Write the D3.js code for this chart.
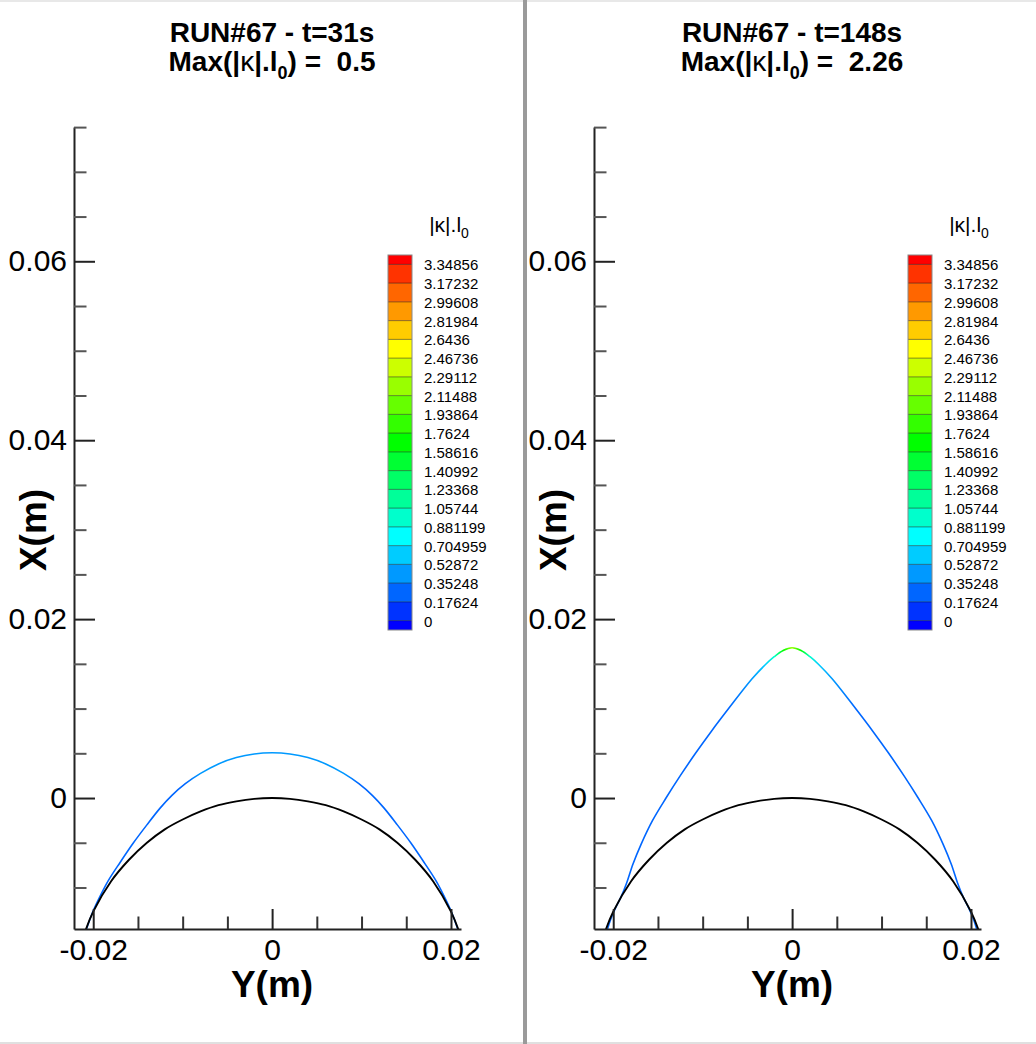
<!DOCTYPE html>
<html>
<head>
<meta charset="utf-8">
<script src="https://cdn.jsdelivr.net/npm/d3@7"></script>
<style>
  html, body { margin: 0; padding: 0; background: #fff; }
  svg { display: block; }
  text { font-family: "Liberation Sans", Arial, Helvetica, sans-serif; }
</style>
</head>
<body>
<div id="chart"></div>
<script>
// ---------------- data ----------------
const panelTitles = ["RUN#67 - t=31s", "RUN#67 - t=148s"];
const panelMax = ["0.5", "2.26"];

const xAxisMajor = [-0.02, 0, 0.02];                 // Y(m)
const xAxisMinor = [-0.015, -0.01, -0.005, 0.005, 0.01, 0.015];
const yAxisMajor = [0, 0.02, 0.04, 0.06];             // X(m)
const yAxisMinor = [-0.01, -0.005, 0.005, 0.01, 0.015, 0.025, 0.03, 0.035, 0.045, 0.05, 0.055, 0.065, 0.07, 0.075];

const legendLevels = [0, 0.17624, 0.35248, 0.52872, 0.704959, 0.881199, 1.05744, 1.23368, 1.40992, 1.58616,
  1.7624, 1.93864, 2.11488, 2.29112, 2.46736, 2.6436, 2.81984, 2.99608, 3.17232, 3.34856];
const legendLabels = ["0", "0.17624", "0.35248", "0.52872", "0.704959", "0.881199", "1.05744", "1.23368", "1.40992", "1.58616",
  "1.7624", "1.93864", "2.11488", "2.29112", "2.46736", "2.6436", "2.81984", "2.99608", "3.17232", "3.34856"];
const legendColors = ["#0000ff", "#0033ff", "#0066ff", "#0099ff", "#00ccff", "#00ffff", "#00ffcc", "#00ff99", "#00ff66", "#00ff33",
  "#00ff00", "#33ff00", "#66ff00", "#99ff00", "#ccff00", "#ffff00", "#ffcc00", "#ff9900", "#ff6600", "#ff3300", "#ff0000"];

// reference (initial) interface, black
const circleY = [-0.0214, -0.0210, -0.0200, -0.0180, -0.0160, -0.0140, -0.0120, -0.0100, -0.0080, -0.0060, -0.0040, -0.0020, 0,
  0.0020, 0.0040, 0.0060, 0.0080, 0.0100, 0.0120, 0.0140, 0.0160, 0.0180, 0.0200, 0.0210, 0.0214];
const circleX = [-0.0166, -0.0152, -0.0127, -0.0093, -0.0069, -0.0050, -0.0035, -0.0024, -0.0015, -0.0008, -0.00037, -0.00009, 0,
  -0.00009, -0.00037, -0.0008, -0.0015, -0.0024, -0.0035, -0.0050, -0.0069, -0.0093, -0.0127, -0.0152, -0.0166];

// t = 31 s interface
const run31Y = [-0.0214, -0.0211, -0.0206, -0.0200, -0.0192, -0.0183, -0.0170, -0.0155, -0.0140, -0.0125, -0.0112,
  -0.0097, -0.0080, -0.0060, -0.0040, -0.0020, 0,
  0.0020, 0.0040, 0.0060, 0.0080, 0.0097,
  0.0112, 0.0125, 0.0140, 0.0155, 0.0170, 0.0183, 0.0192, 0.0200, 0.0206, 0.0211, 0.0214];
const run31X = [-0.0170, -0.0157, -0.0142, -0.0126, -0.0109, -0.0092, -0.0072, -0.0050, -0.0030, -0.0011, 0.0003,
  0.0016, 0.00275, 0.00381, 0.00452, 0.00493, 0.00506,
  0.00493, 0.00452, 0.00381, 0.00275, 0.0016,
  0.0003, -0.0011, -0.0030, -0.0050, -0.0072, -0.0092, -0.0109, -0.0126, -0.0142, -0.0157, -0.0170];
const run31K = [0.3, 0.3, 0.3, 0.3, 0.3, 0.3, 0.29, 0.28, 0.28, 0.29, 0.31,
  0.34, 0.38, 0.43, 0.47, 0.49, 0.5,
  0.49, 0.47, 0.43, 0.38, 0.34,
  0.31, 0.29, 0.28, 0.28, 0.29, 0.3, 0.3, 0.3, 0.3, 0.3, 0.3];

// t = 148 s interface
const run148Y = [-0.0213, -0.0208, -0.0203, -0.0197, -0.0191, -0.0185, -0.0178, -0.0169, -0.0156, -0.0141, -0.0125, -0.0108, -0.0090,
  -0.0071, -0.0045, -0.0030, -0.0020, -0.0010, 0,
  0.0010, 0.0020, 0.0030, 0.0045, 0.0071,
  0.0090, 0.0108, 0.0125, 0.0141, 0.0156, 0.0169, 0.0178, 0.0185, 0.0191, 0.0197, 0.0203, 0.0208, 0.0213];
const run148X = [-0.0172, -0.0152, -0.0136, -0.0122, -0.0110, -0.0095, -0.0074, -0.0052, -0.0025, 0.0000, 0.0025, 0.0050, 0.0075,
  0.0100, 0.0133, 0.0149, 0.0158, 0.0165, 0.0168,
  0.0165, 0.0158, 0.0149, 0.0133, 0.0100,
  0.0075, 0.0050, 0.0025, 0.0000, -0.0025, -0.0052, -0.0074, -0.0095, -0.0110, -0.0122, -0.0136, -0.0152, -0.0172];
const run148K = [0.28, 0.28, 0.28, 0.28, 0.28, 0.28, 0.27, 0.26, 0.25, 0.25, 0.25, 0.25, 0.27,
  0.3, 0.42, 0.7, 1.0, 1.6, 2.26,
  1.6, 1.0, 0.7, 0.42, 0.3,
  0.27, 0.25, 0.25, 0.25, 0.25, 0.26, 0.27, 0.28, 0.28, 0.28, 0.28, 0.28, 0.28];

const runsY = [run31Y, run148Y], runsX = [run31X, run148X], runsK = [run31K, run148K];

// ---------------- drawing ----------------
const W = 1036, H = 1044;
const FONT = '"Liberation Sans", Arial, Helvetica, sans-serif';
const svg = d3.select("#chart").append("svg").attr("width", W).attr("height", H);
svg.append("rect").attr("width", W).attr("height", H).attr("fill", "#fff");

// frame lines
svg.append("rect").attr("x", 0).attr("y", 0).attr("width", W).attr("height", 2).attr("fill", "#e8e8e8");
svg.append("rect").attr("x", 0).attr("y", 1042).attr("width", W).attr("height", 2).attr("fill", "#e0e0e0");
svg.append("rect").attr("x", 523).attr("y", 0).attr("width", 4).attr("height", H).attr("fill", "#9a9a9a");

const colorOf = d3.scaleThreshold().domain(legendLevels).range(legendColors);
const defs = svg.append("defs");

[0, 1].forEach(p => {
  const ox = p * 520;
  const g = svg.append("g");

  const x = d3.scaleLinear().domain([-0.02215, 0.02112]).range([74 + ox, 461 + ox]);
  const y = d3.scaleLinear().domain([-0.01464, 0.075]).range([929, 127.1]);

  // clip
  defs.append("clipPath").attr("id", "clip" + p)
    .append("rect").attr("x", x.range()[0]).attr("y", y.range()[1])
    .attr("width", x.range()[1] - x.range()[0]).attr("height", y.range()[0] - y.range()[1]);

  // title
  g.append("text").attr("x", 272 + ox).attr("y", 42).attr("text-anchor", "middle")
    .attr("font-size", 28).attr("font-weight", "bold").attr("fill", "#000").text(panelTitles[p]);
  const t2 = g.append("text").attr("x", 272 + ox).attr("y", 71).attr("text-anchor", "middle")
    .attr("font-size", 28).attr("font-weight", "bold").attr("fill", "#000").style("white-space", "pre");
  t2.append("tspan").text("Max(|");
  t2.append("tspan").attr("font-weight", "normal").text("κ");
  t2.append("tspan").text("|.l");
  t2.append("tspan").attr("font-size", 18).attr("dy", 8).text("0");
  t2.append("tspan").attr("dy", -8).text(") =  " + panelMax[p]);

  // curve colored by curvature via horizontal gradient
  const Ys = runsY[p], Xs = runsX[p], Ks = runsK[p];
  const x1 = x(Ys[0]), x2 = x(Ys[Ys.length - 1]);
  const grad = defs.append("linearGradient").attr("id", "grad" + p)
    .attr("gradientUnits", "userSpaceOnUse")
    .attr("x1", x1).attr("x2", x2).attr("y1", 0).attr("y2", 0);
  Ys.forEach((v, i) => {
    grad.append("stop").attr("offset", (x(v) - x1) / (x2 - x1)).attr("stop-color", colorOf(Ks[i]));
  });

  const line = d3.line().x(d => x(d[0])).y(d => y(d[1])).curve(d3.curveCatmullRom.alpha(0.5));
  const plot = g.append("g").attr("clip-path", `url(#clip${p})`);
  plot.append("path").datum(Ys.map((v, i) => [v, Xs[i]]))
    .attr("d", line).attr("fill", "none").attr("stroke", `url(#grad${p})`).attr("stroke-width", 1.6);
  plot.append("path").datum(circleY.map((v, i) => [v, circleX[i]]))
    .attr("d", line).attr("fill", "none").attr("stroke", "#000").attr("stroke-width", 1.9);

  // axes
  const fmt = d => d === 0 ? "0" : String(d);
  const axL = 74 + ox;
  g.append("g").attr("transform", `translate(${axL},0)`)
    .call(d3.axisLeft(y).tickValues(yAxisMinor).tickSizeInner(-12.5).tickSizeOuter(0).tickFormat(""))
    .call(s => s.select(".domain").attr("stroke", "#222").attr("stroke-width", 2))
    .call(s => s.selectAll(".tick line").attr("stroke", "#555").attr("stroke-width", 2));
  g.append("g").attr("transform", `translate(${axL},0)`)
    .call(d3.axisLeft(y).tickValues(yAxisMajor).tickSizeInner(-21).tickSizeOuter(0).tickPadding(7).tickFormat(fmt))
    .call(s => s.select(".domain").remove())
    .call(s => s.selectAll(".tick line").attr("stroke", "#222").attr("stroke-width", 2))
    .call(s => s.selectAll(".tick text").attr("font-size", 30).attr("fill", "#000").attr("font-family", FONT));

  g.append("g").attr("transform", `translate(0,929)`)
    .call(d3.axisBottom(x).tickValues(xAxisMinor).tickSizeInner(-12.5).tickSizeOuter(0).tickFormat(""))
    .call(s => s.select(".domain").attr("stroke", "#222").attr("stroke-width", 2))
    .call(s => s.selectAll(".tick line").attr("stroke", "#333").attr("stroke-width", 2));
  g.append("g").attr("transform", `translate(0,929)`)
    .call(d3.axisBottom(x).tickValues(xAxisMajor).tickSizeInner(-20).tickSizeOuter(0).tickPadding(10).tickFormat(fmt))
    .call(s => s.select(".domain").remove())
    .call(s => s.selectAll(".tick line").attr("stroke", "#222").attr("stroke-width", 2))
    .call(s => s.selectAll(".tick text").attr("font-size", 30).attr("fill", "#000").attr("font-family", FONT));

  // axis titles
  g.append("text").attr("x", 272 + ox).attr("y", 997).attr("text-anchor", "middle")
    .attr("font-size", 37).attr("font-weight", "bold").text("Y(m)");
  g.append("text").attr("transform", `translate(${46 + ox},530) rotate(-90)`).attr("text-anchor", "middle")
    .attr("font-size", 37).attr("font-weight", "bold").text("X(m)");

  // legend
  const lx = 388 + ox, lw = 24;
  const ly = d3.scaleLinear().domain([-0.08812, 3.43668]).range([630, 255]);
  const bandEdges = [-0.08812, ...legendLevels, 3.43668];
  const lg = g.append("g");
  legendColors.forEach((c, i) => {
    lg.append("rect").attr("x", lx).attr("y", ly(bandEdges[i + 1])).attr("width", lw)
      .attr("height", ly(bandEdges[i]) - ly(bandEdges[i + 1])).attr("fill", c);
  });
  legendLevels.forEach(v => {
    lg.append("line").attr("x1", lx).attr("x2", lx + lw).attr("y1", ly(v)).attr("y2", ly(v))
      .attr("stroke", "#000").attr("stroke-opacity", 0.45).attr("stroke-width", 1);
  });
  lg.append("rect").attr("x", lx).attr("y", 255).attr("width", lw).attr("height", 375)
    .attr("fill", "none").attr("stroke", "#888").attr("stroke-width", 1);
  legendLevels.forEach((v, i) => {
    lg.append("text").attr("x", 424 + ox).attr("y", ly(v) + 2).attr("dominant-baseline", "middle")
      .attr("font-size", 15).attr("fill", "#000").text(legendLabels[i]);
  });
  const lt = lg.append("text").attr("x", 449 + ox).attr("y", 232).attr("text-anchor", "middle")
    .attr("font-size", 21).attr("fill", "#000");
  lt.append("tspan").text("|κ|.l");
  lt.append("tspan").attr("font-size", 14).attr("dy", 6).text("0");
});
</script>
</body>
</html>
